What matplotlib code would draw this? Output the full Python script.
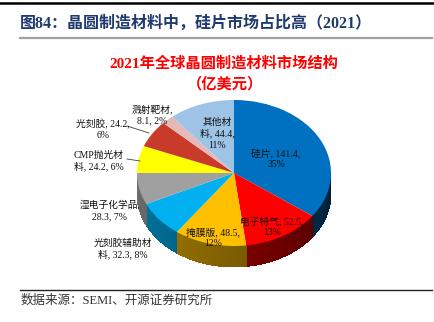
import numpy as np
import matplotlib
matplotlib.use("Agg")
import matplotlib.pyplot as plt
from matplotlib.patches import Polygon
from matplotlib.lines import Line2D
import matplotlib.colors as mcolors

# ---- data ----
categories = ["硅片", "电子特气", "掩膜版", "光刻胶辅助材料", "湿电子化学品",
              "CMP抛光材料", "光刻胶", "溅射靶材", "其他材料"]
values = [141.4, 52.5, 48.5, 32.3, 28.3, 24.2, 24.2, 8.1, 44.4]
percents = ["35%", "13%", "12%", "8%", "7%", "6%", "6%", "2%", "11%"]
colors = ["#0070C0", "#FF0000", "#FFC000", "#00B0F0", "#A0A0A0",
          "#FFFF00", "#C83A2A", "#E6B9B8", "#9DC3E6"]
label_lines = [
    ["硅片, 141.4,", "35%"],
    ["电子特气, 52.5,", "13%"],
    ["掩膜版, 48.5,", "12%"],
    ["光刻胶辅助材", "料, 32.3, 8%"],
    ["湿电子化学品,", "28.3, 7%"],
    ["CMP抛光材", "料, 24.2, 6%"],
    ["光刻胶, 24.2,", "6%"],
    ["溅射靶材,", "8.1, 2%"],
    ["其他材", "料, 44.4,", "11%"],
]

W, H = 435, 322
fig = plt.figure(figsize=(W / 100, H / 100), dpi=100)
fig.patch.set_facecolor("white")

FAM = ["Liberation Serif", "Noto Sans CJK SC"]

# geometry in pixels
cx, cy, rx, ry, depth = 234, 173, 97, 73, 21

ax = fig.add_axes([0, 0, 1, 1])
ax.set_axis_off()
wedges, _ = ax.pie(values, colors=colors, startangle=90, counterclock=False,
                   radius=1, center=(0, 0),
                   wedgeprops=dict(linewidth=0))
ax.set_aspect("auto")
ax.set_xlim(-cx / rx, (W - cx) / rx)
ax.set_ylim((cy - H) / ry, cy / ry)
d = depth / ry

# 3D side walls (visible front half, angles -180..0)
total = sum(values)
start = 90.0
for v, c in zip(values, colors):
    span = 360.0 * v / total
    a1, a0 = start - span, start
    start = a1
    lo, hi = max(a1, -180.0), min(a0, 0.0)
    if lo >= hi:
        continue
    base = np.array(mcolors.to_rgb(c))
    steps = np.linspace(lo, hi, max(2, int((hi - lo) / 1.5) + 2))
    for s0, s1 in zip(steps[:-1], steps[1:]):
        mid = 0.5 * (s0 + s1)
        f = 0.70 - 0.42 * (mid + 180.0) / 180.0
        col = tuple(np.clip(base * f, 0, 1))
        t = np.radians([s0, s1 + 0.4 if s1 < hi else s1])
        pts = [(np.cos(t[0]), np.sin(t[0])), (np.cos(t[1]), np.sin(t[1])),
               (np.cos(t[1]), np.sin(t[1]) - d), (np.cos(t[0]), np.sin(t[0]) - d)]
        ax.add_patch(Polygon(pts, closed=True, facecolor=col, edgecolor="none",
                             linewidth=0, antialiased=False, zorder=0.5))
for w in wedges:
    w.set_zorder(2)


def fx(px):
    return px / W


def fy(py):
    return 1 - py / H


# slice labels (pixel centers of first line)
label_pos = [(276, 153), (272, 221), (213, 232), (123, 243), (110, 205),
             (99, 155), (103, 124), (152, 109), (217, 122)]
LS = 11.5
for lines, (px, py) in zip(label_lines, label_pos):
    for k, ln in enumerate(lines):
        fig.text(fx(px), fy(py + k * LS), ln, ha="center", va="center",
                 fontsize=7, family=FAM, color="#111111", zorder=5)

# leader lines
for (x0, y0, x1, y1) in [(127, 126, 149, 133), (127, 159, 140, 161)]:
    fig.add_artist(Line2D([fx(x0), fx(x1)], [fy(y0), fy(y1)],
                          color="#404040", linewidth=0.6))

# header
fig.add_artist(Line2D([0, 1], [fy(3), fy(3)], color="black", linewidth=1.8))
fig.text(fx(20), fy(24), "图84：晶圆制造材料中，硅片市场占比高（2021）",
         ha="left", va="center", fontsize=11.5, fontweight="bold",
         family=FAM, color="#1F3A6E")
fig.add_artist(Line2D([fx(20), fx(432)], [fy(38), fy(38)], color="#A0A0A0",
                      linewidth=1.6))

# chart title
fig.text(fx(224), fy(63), "2021年全球晶圆制造材料市场结构", ha="center",
         va="center", fontsize=11, fontweight="bold", family=FAM,
         color="#FF0000")
fig.text(fx(225), fy(84), "（亿美元）", ha="center", va="center",
         fontsize=11, fontweight="bold", family=FAM, color="#FF0000")

# footer
fig.add_artist(Line2D([fx(20), fx(432)], [fy(290), fy(290)], color="#222222",
                      linewidth=1.0))
fig.text(fx(21), fy(301), "数据来源：SEMI、开源证券研究所", ha="left",
         va="center", fontsize=9, family=FAM, color="#333333")

fig.savefig("out.png", dpi=100, facecolor="white")
